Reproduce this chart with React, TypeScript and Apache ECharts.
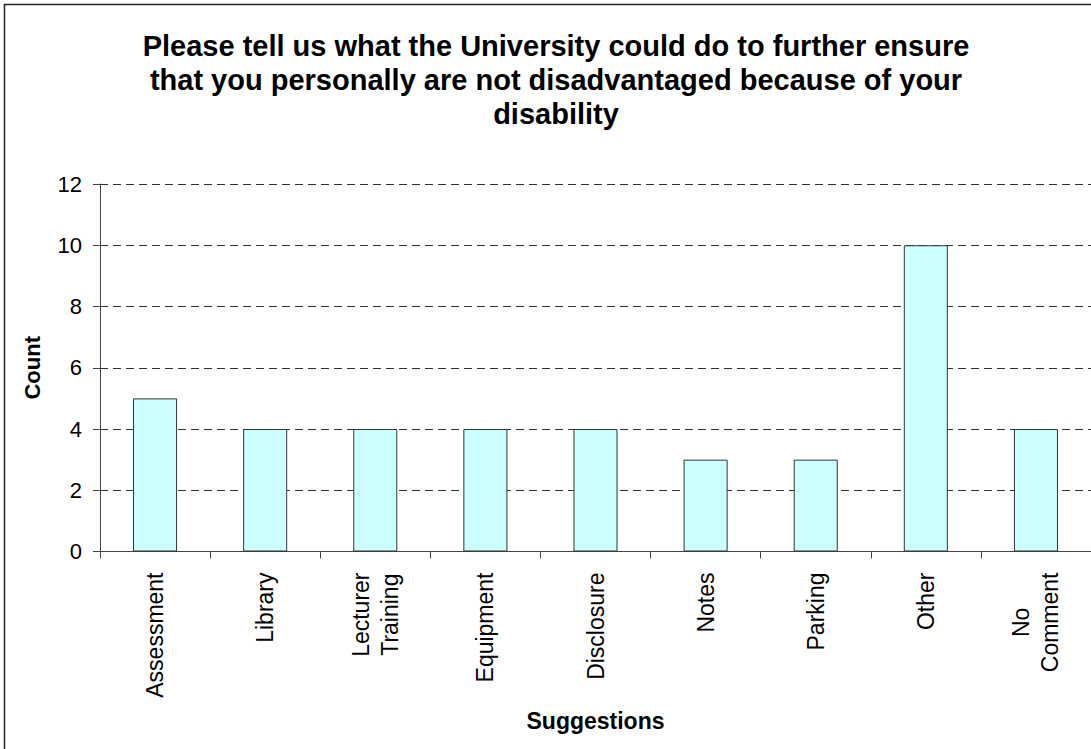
import React, { useEffect, useRef } from "react";
import * as echarts from "echarts";

const titleLines = [
  "Please tell us what the University could do to further ensure",
  "that you personally are not disadvantaged because of your",
  "disability",
];
const categories = [
  "Assessment",
  "Library",
  "Lecturer\nTraining",
  "Equipment",
  "Disclosure",
  "Notes",
  "Parking",
  "Other",
  "No\nComment",
];
const counts = [5, 4, 4, 4, 4, 3, 3, 10, 4];
const yAxisName = "Count";
const xAxisName = "Suggestions";

export default function App() {
  const ref = useRef<HTMLDivElement>(null);
  useEffect(() => {
    if (!ref.current) return;
    const chart = echarts.init(ref.current, undefined, { renderer: "svg" });
    const font = "Liberation Sans, Arial, sans-serif";
    chart.setOption({
      animation: false,
      backgroundColor: "#ffffff",
      title: {
        text: titleLines.join("\n"),
        left: 551,
        top: 24,
        textAlign: "center",
        textStyle: {
          fontFamily: font,
          fontWeight: "bold",
          fontSize: 29,
          lineHeight: 34,
          color: "#000",
        },
      },
      graphic: [
        {
          type: "rect",
          shape: { x: 4.5, y: 4.5, width: 1100, height: 760 },
          style: { fill: "none", stroke: "#222", lineWidth: 1.5 },
          silent: true,
        },
      ],
      grid: { left: 100, top: 184, width: 992, height: 367.5 },
      xAxis: {
        type: "category",
        data: categories,
        name: xAxisName,
        nameLocation: "middle",
        nameGap: 158,
        nameTextStyle: { fontFamily: font, fontWeight: "bold", fontSize: 23, color: "#000" },
        axisLine: { show: true, lineStyle: { color: "#444", width: 1 } },
        axisTick: { show: true, length: 7, interval: 0, lineStyle: { color: "#444" } },
        axisLabel: {
          interval: 0,
          rotate: 90,
          margin: 21,
          fontFamily: font,
          fontSize: 23,
          color: "#000",
          lineHeight: 29,
          formatter: (v: string) =>
            v
              .split("\n")
              .map((s) => "{c|" + s + "}")
              .join("\n"),
          rich: { c: { align: "center", fontFamily: font, fontSize: 23, color: "#000", lineHeight: 29 } },
        },
      },
      yAxis: {
        type: "value",
        min: 0,
        max: 12,
        interval: 2,
        name: yAxisName,
        nameLocation: "middle",
        nameGap: 57,
        nameRotate: 90,
        nameTextStyle: { fontFamily: font, fontWeight: "bold", fontSize: 22, color: "#000" },
        axisLine: { show: true, lineStyle: { color: "#444", width: 1 } },
        axisTick: { show: true, length: 7, lineStyle: { color: "#444" } },
        axisLabel: { margin: 18, fontFamily: font, fontSize: 22, color: "#000" },
        splitLine: {
          show: true,
          lineStyle: { color: "#333", type: [8, 5], width: 1 },
        },
      },
      series: [
        {
          type: "bar",
          data: counts,
          barWidth: "40%",
          itemStyle: { color: "#CCFFFF", borderColor: "#333", borderWidth: 1 },
        },
      ],
    });
    return () => chart.dispose();
  }, []);
  return (
    <div
      ref={ref}
      style={{ position: "absolute", left: 0, top: 0, width: 1091, height: 749 }}
    />
  );
}
